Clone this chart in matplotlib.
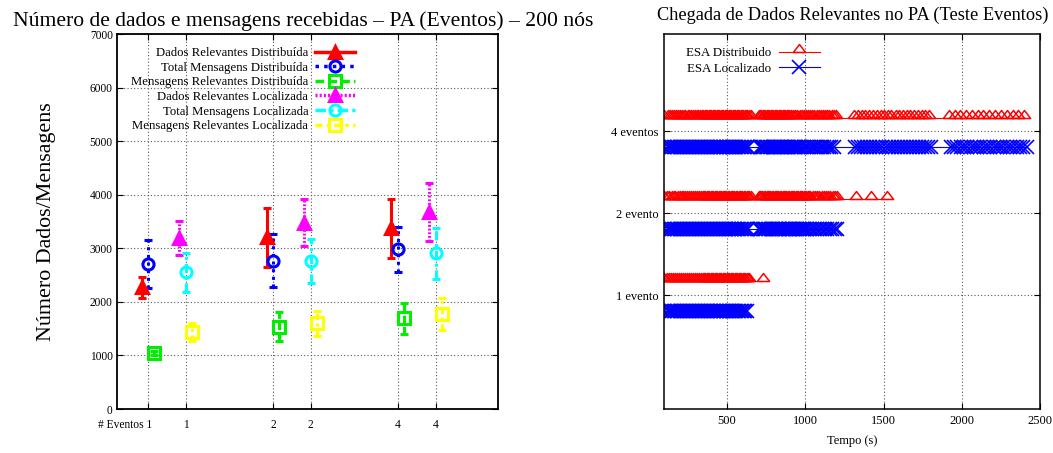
import matplotlib
matplotlib.use('Agg')
import matplotlib.pyplot as plt
from matplotlib.lines import Line2D
from matplotlib.path import Path
from matplotlib.transforms import ScaledTranslation

plt.rcParams['font.family'] = ['Liberation Serif', 'DejaVu Serif']

# ---------------- left chart data ----------------
tick_labels = ["# Eventos 1", "1", "2", "2", "4", "4"]
pos_dist = [1.0, 2.0, 3.0]
pos_loc = [1.3, 2.3, 3.3]

dados_dist = [2270, 3205, 3373]
dados_dist_err = [200, 550, 550]
total_dist = [2701, 2769, 2981]
total_dist_err = [450, 490, 420]
msgrel_dist = [1040, 1537, 1693]
msgrel_dist_err = [40, 270, 290]
dados_loc = [3186, 3478, 3683]
dados_loc_err = [320, 435, 540]
total_loc = [2552, 2763, 2906]
total_loc_err = [360, 405, 475]
msgrel_loc = [1432, 1600, 1768]
msgrel_loc_err = [170, 230, 300]

# ---------------- right chart data ----------------
level_labels = ["1 evento", "2 evento", "4 eventos"]
levels = [1, 2, 3]

red_1ev = [100, 118, 131, 145, 158, 170, 184, 196, 209, 221, 234, 246, 259, 271, 284, 296, 308, 320, 332, 344,
           353, 362, 370, 379, 387, 396, 404, 413, 421, 430, 438, 447, 455, 464, 472, 481, 489, 498, 506, 515,
           523, 532, 540, 549, 557, 566, 574, 583, 591, 600, 608, 617, 625, 634, 643, 729]
blue_1ev = [100, 121, 131, 140, 150, 161, 169, 180, 188, 199, 207, 218, 226, 237, 245, 256, 264, 275, 283, 294,
            302, 313, 321, 332, 340, 351, 359, 370, 378, 389, 397, 408, 416, 427, 435, 446, 454, 465, 473, 484,
            492, 503, 511, 522, 530, 541, 549, 560, 568, 579, 587, 598, 606, 617, 630]
red_2ev = [100, 119, 132, 147, 159, 171, 185, 197, 210, 222, 235, 247, 260, 272, 285, 297, 309, 321, 333, 344,
           353, 361, 370, 378, 387, 395, 404, 412, 421, 429, 438, 446, 455, 463, 472, 480, 489, 497, 506, 514,
           523, 531, 540, 548, 557, 565, 574, 582, 591, 599, 608, 616, 625, 633, 642, 652,
           702, 710, 719, 727, 736, 744, 753, 761, 770, 778, 787, 795, 804, 812, 821, 829, 838, 846, 855, 863,
           872, 880, 889, 897, 906, 914, 923, 931, 940, 948, 957, 965, 974, 982, 991, 999, 1008, 1016, 1025, 1033,
           1047, 1061, 1076, 1090, 1104, 1119, 1133, 1147, 1161, 1175, 1189, 1203,
           1324, 1418, 1524]
blue_2ev = [100, 122, 132, 141, 151, 162, 170, 181, 189, 200, 208, 219, 227, 238, 246, 257, 265, 276, 284, 295,
            303, 314, 322, 333, 341, 352, 360, 371, 379, 390, 398, 409, 417, 428, 436, 447, 455, 466, 474, 485,
            493, 504, 512, 523, 531, 542, 550, 561, 569, 580, 588, 599, 607, 618, 626, 636,
            704, 712, 720, 728, 736, 744, 752, 761, 770, 779, 788, 797, 806, 815, 824, 833, 842, 851, 860, 869,
            878, 887, 896, 905, 914, 923, 932, 941, 950, 959, 968, 977, 986, 995, 1004, 1013,
            1030, 1046, 1062, 1078, 1094, 1110, 1126, 1142, 1158, 1174, 1190, 1205]
red_4ev = [100, 121, 134, 149, 160, 172, 186, 197, 211, 223, 234, 248, 259, 271, 284, 295, 307, 318, 330, 341,
           350, 358, 367, 375, 384, 392, 401, 409, 418, 426, 435, 443, 452, 460, 469, 477, 486, 494, 503, 511,
           520, 528, 537, 545, 554, 562, 571, 579, 588, 596, 605, 613, 622, 630, 639, 655,
           703, 711, 720, 728, 737, 745, 754, 762, 771, 779, 788, 796, 805, 813, 822, 830, 839, 847, 856, 864,
           873, 881, 890, 898,
           910, 923, 937, 950, 964, 977, 991, 1004, 1018, 1031, 1045, 1058, 1072, 1085, 1099, 1112, 1126, 1140,
           1154, 1168, 1182, 1196,
           1314, 1337, 1362, 1384, 1409, 1433, 1456, 1482, 1504, 1529, 1551, 1577, 1600, 1623, 1649, 1671, 1696,
           1718, 1744, 1765, 1790,
           1917, 1955, 1990, 2029, 2064, 2103, 2138, 2177, 2212, 2251, 2286, 2325, 2360, 2397]
blue_4ev = [100, 123, 131, 142, 150, 161, 169, 180, 188, 199, 207, 218, 226, 237, 245, 256, 264, 275, 283, 294,
            302, 313, 321, 332, 340, 351, 359, 370, 378, 389, 397, 408, 416, 427, 435, 446, 454, 465, 473, 484,
            492, 503, 511, 522, 530, 541, 549, 560, 568, 579, 587, 598, 606, 617, 627, 634,
            708, 716, 724, 731, 739, 747, 755, 764, 773, 782, 791, 800, 809, 818, 827, 836, 845, 854, 863, 872,
            881, 890, 899, 908, 917, 926, 935, 944, 953, 962,
            976, 991, 1005, 1020, 1034, 1049, 1063, 1078, 1092, 1107, 1121, 1136, 1150, 1165, 1183,
            1318, 1337, 1357, 1376, 1396, 1415, 1435, 1454, 1474, 1493, 1513, 1532, 1552, 1571, 1591, 1610, 1630,
            1649, 1669, 1688, 1708, 1727, 1747, 1766, 1786, 1803,
            1930, 1951, 1972, 1993, 2014, 2035, 2056, 2077, 2098, 2119, 2140, 2161, 2182, 2203, 2224, 2245, 2266,
            2287, 2308, 2329, 2350, 2371, 2392, 2418]

# ---------------- figure ----------------
fig = plt.figure(figsize=(10.53, 4.53), dpi=100)
ax1 = fig.add_axes([0.1111, 0.0971, 0.3618, 0.8278])
ax2 = fig.add_axes([0.6309, 0.0971, 0.3568, 0.8278])

grid_kw = dict(color='0.35', linestyle=(0, (1, 2)), linewidth=0.8)

# ---- left chart ----
series = [
    ("Dados Relevantes Distribuída", pos_dist, -0.053, dados_dist, dados_dist_err, '#ff0000', '^', True, '-'),
    ("Total Mensagens Distribuída", pos_dist, 0.0, total_dist, total_dist_err, '#0000ff', 'o', False, (0, (1, 1.5))),
    ("Mensagens Relevantes Distribuída", pos_dist, 0.05, msgrel_dist, msgrel_dist_err, '#00ee00', 's', False, (0, (2.5, 1.2))),
    ("Dados Relevantes Localizada", pos_loc, -0.053, dados_loc, dados_loc_err, '#ff00ff', '^', True, (0, (0.6, 0.6))),
    ("Total Mensagens Localizada", pos_loc, 0.0, total_loc, total_loc_err, '#00ffff', 'o', False, (0, (3, 1.2, 1, 1.2))),
    ("Mensagens Relevantes Localizada", pos_loc, 0.05, msgrel_loc, msgrel_loc_err, '#ffff00', 's', False, (0, (2, 1.2, 1, 1.2))),
]
handles = []
for label, pos, off, vals, errs, col, mk, filled, ls in series:
    xs = [p + off for p in pos]
    cont = ax1.errorbar(xs, vals, yerr=errs, fmt='none', ecolor=col, elinewidth=2.2,
                        capsize=3, capthick=2.2, zorder=3)
    for lc in cont.lines[2]:
        lc.set_linestyle(ls)
    ms = 8.5 if mk == '^' else 8
    ax1.plot(xs, vals, linestyle='none', marker=mk, ms=ms, color=col,
             mfc=col if filled else 'none', mec=col, mew=2.2, zorder=4)
    handles.append(Line2D([], [], color=col, linestyle=ls, linewidth=2.5, marker=mk, ms=ms,
                          mfc=col if filled else 'none', mec=col, mew=2.2, label=label))

all_pos = [p for pair in zip(pos_dist, pos_loc) for p in pair]
ax1.set_xlim(0.75, 3.8)
ax1.set_ylim(0, 7000)
ax1.set_xticks(all_pos)
ax1.set_xticklabels(tick_labels)
ax1.set_yticks(range(0, 7001, 1000))
ax1.tick_params(direction='in', top=True, right=True, labelsize=8.3, length=4, width=0.8, pad=3)
ax1.tick_params(axis='x', pad=7)
ax1.grid(True, **grid_kw)
ax1.set_axisbelow(True)
for s in ax1.spines.values():
    s.set_linewidth(1.3)
first = ax1.get_xticklabels()[0]
first.set_ha('right')
first.set_transform(first.get_transform() + ScaledTranslation(3.2 / 72, 0, fig.dpi_scale_trans))

ax1.set_ylabel("Número Dados/Mensagens", fontsize=15.8, labelpad=24)
ax1.set_title("Número de dados e mensagens recebidas – PA (Eventos) – 200 nós", fontsize=15.6, pad=6,
              x=0.49)
ax1.legend(handles=handles, loc='upper right', bbox_to_anchor=(0.628, 0.968), markerfirst=False,
           frameon=False, fontsize=9.2, handlelength=3.1, handletextpad=0.55, labelspacing=0.2,
           borderpad=0.1, borderaxespad=0)

# ---- right chart ----
tri = Path([(-1, 0), (1, 0), (0, 1.3), (-1, 0)],
           [Path.MOVETO, Path.LINETO, Path.LINETO, Path.CLOSEPOLY])
red_sets = [red_1ev, red_2ev, red_4ev]
blue_sets = [blue_1ev, blue_2ev, blue_4ev]
for lev, rs, bs in zip(levels, red_sets, blue_sets):
    ax2.plot(rs, [lev + 0.17] * len(rs), color='#ff0000', lw=0.8, marker=tri, ms=11.5,
             mfc='none', mec='#ff0000', mew=1.1,
             label="ESA Distribuido" if lev == 1 else None)
    ax2.plot(bs, [lev - 0.19] * len(bs), color='#0000ff', lw=0.8, marker='x', ms=10,
             mec='#0000ff', mew=1.2,
             label="ESA Localizado" if lev == 1 else None)

ax2.set_xlim(100, 2500)
ax2.set_ylim(-0.39, 4.19)
ax2.set_xticks([500, 1000, 1500, 2000, 2500])
ax2.set_yticks(levels)
ax2.set_yticklabels(level_labels)
ax2.tick_params(direction='in', top=True, right=True, labelsize=9, length=4, width=0.8, pad=4)
ax2.grid(True, **grid_kw)
ax2.set_axisbelow(True)
for s in ax2.spines.values():
    s.set_linewidth(1.1)
ax2.set_xlabel("Tempo (s)", fontsize=9, labelpad=6)
ax2.set_title("Chegada de Dados Relevantes no PA (Teste Eventos)", fontsize=13.2, pad=10)
ax2.legend(loc='upper right', bbox_to_anchor=(0.418, 0.968), markerfirst=False, frameon=False,
           fontsize=9.3, handlelength=3.2, handletextpad=0.6, labelspacing=0.27, borderpad=0.1,
           borderaxespad=0)

fig.savefig('out.png', dpi=100)
